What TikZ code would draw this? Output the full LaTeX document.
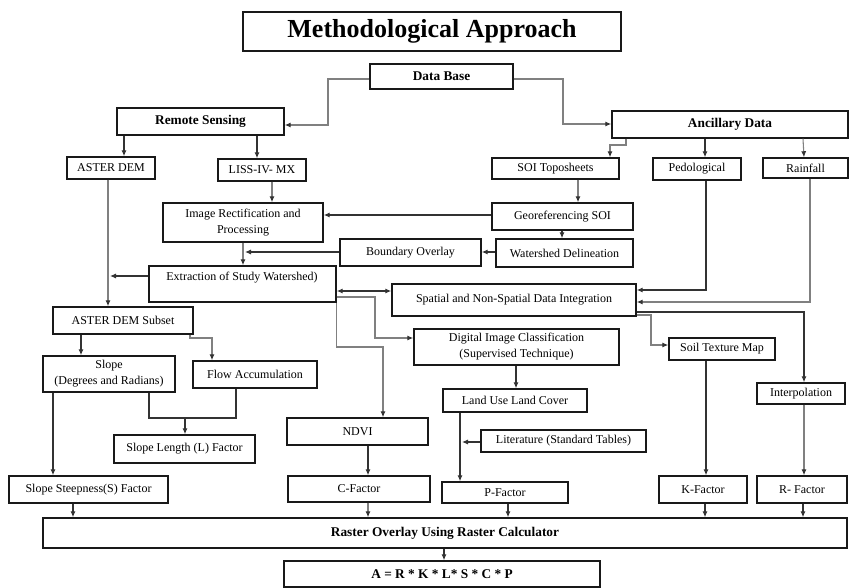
\documentclass[tikz,border=0pt]{standalone}
\usepackage{fontspec}
\setmainfont{Liberation Serif}
\usetikzlibrary{arrows.meta}
\newcommand\bx[6][]{\node[box,#1,minimum width={(#4-#2)*0.75pt},minimum height={(#5-#3)*0.75pt}] (#6) at ({(#2+#4)/2},{(#3+#5)/2})}
\begin{document}
\begin{tikzpicture}[x=0.75pt,y=-0.75pt,
  box/.style={draw=black!90, line width=1.1pt, fill=white, inner sep=0pt, align=center, font=\fontsize{9}{12}\selectfont},
  bbox/.style={box, font=\fontsize{10}{12}\selectfont\bfseries},
  plain/.style={inner sep=0pt, font=\fontsize{9}{12}\selectfont},
  conn/.style={draw=black!80, line width=0.8pt},
  conng/.style={draw=black!50, line width=0.8pt},
  tip/.style={-{Latex[length=4.5pt,width=3.8pt,color=black!80]}},
  arr/.style={conn, tip},
  arrg/.style={conng, tip},
  arr2/.style={conn, {Latex[length=4.5pt,width=3.8pt]}-{Latex[length=4.5pt,width=3.8pt]}},
]
\useasboundingbox (0,0) rectangle (849,588);
\fill[white] (0,0) rectangle (849,588);

% nodes
\bx[line width=1.5pt, font=\fontsize{19.5}{22}\selectfont\bfseries]{243}{12}{621}{51}{title} {Methodological Approach};
\bx[bbox]{370}{64}{513}{89}{db} {Data Base};
\bx[bbox]{117}{108}{284}{135}{rs} {Remote Sensing};
\bx[bbox]{612}{111}{848}{138}{anc} {Ancillary Data};
\bx{67}{157}{155}{179}{aster} {ASTER DEM};
\bx{218}{159}{306}{181}{liss} {LISS-IV- MX};
\bx{492}{158}{619}{179}{soi} {SOI Toposheets};
\bx{653}{158}{741}{180}{ped} {Pedological};
\bx{763}{158}{848}{178}{rain} {Rainfall};
\bx{163}{203}{323}{242}{img} {Image Rectification and\\Processing};
\bx{492}{203}{633}{230}{geo} {Georeferencing SOI};
\bx{340}{239}{481}{266}{bound} {Boundary Overlay};
\bx{496}{239}{633}{267}{wsd} {Watershed Delineation};
\bx{149}{266}{336}{302}{ext} {};
\node[plain] (exttxt) at (242,278) {Extraction of Study Watershed)};
\bx{392}{284}{636}{316}{spat} {Spatial and Non-Spatial Data Integration};
\bx{53}{307}{193}{334}{subset} {ASTER DEM Subset};
\bx{414}{329}{619}{365}{dic} {Digital Image Classification\\(Supervised Technique)};
\bx{669}{338}{775}{360}{soil} {Soil Texture Map};
\bx{43}{356}{175}{392}{slope} {Slope\\(Degrees and Radians)};
\bx{193}{361}{317}{388}{flow} {Flow Accumulation};
\bx{443}{389}{587}{412}{lulc} {Land Use Land Cover};
\bx{757}{383}{845}{404}{interp} {Interpolation};
\bx{287}{418}{428}{445}{ndvi} {NDVI};
\bx{481}{430}{646}{452}{lit} {Literature (Standard Tables)};
\bx{114}{435}{255}{463}{slen} {Slope Length (L) Factor};
\bx{9}{476}{168}{503}{sss} {Slope Steepness(S) Factor};
\bx{288}{476}{430}{502}{cf} {C-Factor};
\bx{442}{482}{568}{503}{pf} {P-Factor};
\bx{659}{476}{747}{503}{kf} {K-Factor};
\bx{757}{476}{847}{503}{rf} {R- Factor};
\bx[bbox]{43}{518}{847}{548}{raster} {Raster Overlay Using Raster Calculator};
\bx[bbox]{284}{561}{600}{587}{afin} {A = R * K * L* S * C * P};

% connectors
\draw[arrg] (db.west |- 0,79) -| (328,125) -- (rs.east |- 0,125);
\draw[arrg] (db.east |- 0,79) -| (563,124) -- (anc.west |- 0,124);
\draw[arr] (rs.south -| 124,0) -- (aster.north -| 124,0);
\draw[arr] (rs.south -| 257,0) -- (liss.north -| 257,0);
\draw[arrg] (anc.south -| 626,0) |- (610,145) -- (soi.north -| 610,0);
\draw[arr] (anc.south -| 705,0) -- (ped.north -| 705,0);
\draw[arrg] (anc.south -| 803,0) -- (rain.north -| 804,0);
\draw[arrg] (liss.south -| 272,0) -- (img.north -| 272,0);
\draw[arrg] (soi.south -| 578,0) -- (geo.north -| 578,0);
\draw[arr] (geo.west |- 0,215) -- (img.east |- 0,215);
\draw[arr] (geo.south -| 562,0) -- (wsd.north -| 562,0);
\draw[arr] (wsd.west |- 0,252) -- (bound.east |- 0,252);
\draw[arrg] (img.south -| 243,0) -- (ext.north -| 243,0);
\coordinate (bndhit) at (245,252);
\draw[arr] (bound.west |- 0,252) -- (bndhit);
\draw[arrg] (aster.south -| 108,0) -- (subset.north -| 108,0);
\coordinate (exthit) at (110,276);
\draw[arr] (ext.west |- 0,276) -- (exthit);
\draw[arr2] (ext.east |- 0,291) -- (spat.west |- 0,291);
\draw[arrg] (ext.east |- 0,297) -- (375,297) |- (dic.west |- 0,338);
\draw[arrg] (ext.south east) |- (383,347) -- (ndvi.north -| 383,0);
\draw[arr] (ped.south -| 706,0) |- (spat.east |- 0,290);
\draw[arrg] (rain.south -| 810,0) |- (spat.east |- 0,302);
\draw[arr] (spat.east |- 0,312) -| (interp.north -| 804,0);
\draw[arrg] (spat.east |- 0,315) -- (651,315) |- (soil.west |- 0,345);
\draw[arr] (dic.south -| 516,0) -- (lulc.north -| 516,0);
\draw[arr] (subset.south -| 81,0) -- (slope.north -| 81,0);
\draw[arrg] (subset.south -| 190,0) |- (212,338) -- (flow.north -| 212,0);
\draw[conn] (slope.south -| 149,0) |- (236,418) -- (flow.south -| 236,0);
\coordinate (sljoin) at (185,418);
\draw[arr] (sljoin) -- (slen.north -| 185,0);
\draw[arr] (slope.south -| 53,0) -- (sss.north -| 53,0);
\draw[arr] (ndvi.south -| 368,0) -- (cf.north -| 368,0);
\draw[arr] (lulc.south -| 460,0) -- (pf.north -| 460,0);
\coordinate (lithit) at (462,442);
\draw[arr] (lit.west |- 0,442) -- (lithit);
\draw[arr] (soil.south -| 706,0) -- (kf.north -| 706,0);
\draw[arrg] (interp.south -| 804,0) -- (rf.north -| 804,0);
\draw[arr] (sss.south -| 73,0) -- (raster.north -| 73,0);
\draw[arrg] (cf.south -| 368,0) -- (raster.north -| 368,0);
\draw[arr] (pf.south -| 508,0) -- (raster.north -| 508,0);
\draw[arr] (kf.south -| 705,0) -- (raster.north -| 705,0);
\draw[arr] (rf.south -| 803,0) -- (raster.north -| 803,0);
\draw[arr] (raster.south -| 444,0) -- (afin.north -| 444,0);
\end{tikzpicture}
\end{document}
